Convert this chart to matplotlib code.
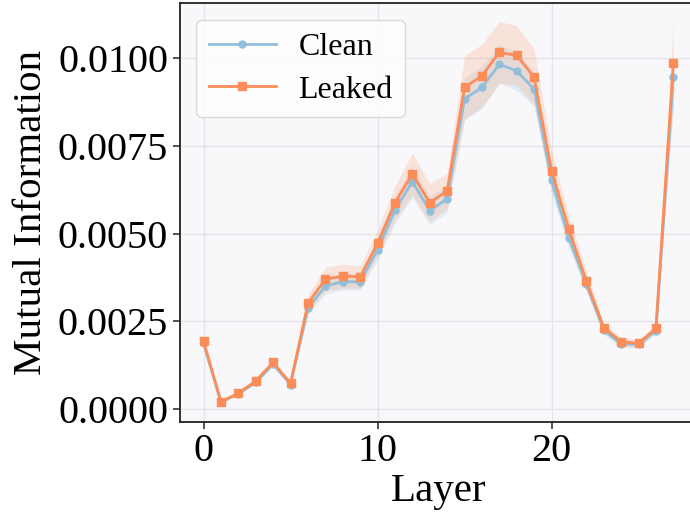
import numpy as np
import matplotlib
matplotlib.use("Agg")
import matplotlib.pyplot as plt

plt.rcParams['font.family'] = ['Liberation Serif', 'DejaVu Serif']

# per-layer mutual information (mean and std over runs)
layers = list(range(28))
clean_mean = [0.00187, 0.00020, 0.00043, 0.00076, 0.00128, 0.00070, 0.00287, 0.00351,
              0.00363, 0.00363, 0.00453, 0.00567, 0.00648, 0.00566, 0.00599, 0.00884,
              0.00917, 0.00983, 0.00964, 0.00912, 0.00653, 0.00487, 0.00356, 0.00225,
              0.00185, 0.00185, 0.00223, 0.00946]
clean_std = [0.00004, 0.00002, 0.00003, 0.00003, 0.00005, 0.00003, 0.00018, 0.00024,
             0.00024, 0.00024, 0.00028, 0.00038, 0.00045, 0.00040, 0.00040, 0.00060,
             0.00060, 0.00055, 0.00055, 0.00050, 0.00040, 0.00030, 0.00020, 0.00012,
             0.00010, 0.00010, 0.00008, 0.00080]
leaked_mean = [0.00194, 0.00021, 0.00045, 0.00080, 0.00133, 0.00073, 0.00301, 0.00370,
               0.00379, 0.00377, 0.00472, 0.00588, 0.00670, 0.00588, 0.00622, 0.00917,
               0.00950, 0.01017, 0.01008, 0.00946, 0.00679, 0.00512, 0.00365, 0.00232,
               0.00192, 0.00187, 0.00230, 0.00986]
leaked_std = [0.00005, 0.00002, 0.00003, 0.00004, 0.00006, 0.00004, 0.00024, 0.00034,
              0.00034, 0.00032, 0.00035, 0.00048, 0.00060, 0.00055, 0.00050, 0.00090,
              0.00090, 0.00088, 0.00085, 0.00080, 0.00055, 0.00040, 0.00028, 0.00014,
              0.00012, 0.00012, 0.00010, 0.00120]

blue = "#91bfdb"
orange = "#fc8d59"

fig = plt.figure(figsize=(6.9, 5.12), dpi=100)
ax = fig.add_axes([0.2609, 0.1764, 0.749, 0.818])
ax.set_facecolor("#f8f8fb")

x = np.array(layers)
for mean, std, color, marker, ms, label in [
        (clean_mean, clean_std, blue, "o", 5, "Clean"),
        (leaked_mean, leaked_std, orange, "s", 6, "Leaked")]:
    mean = np.array(mean)
    std = np.array(std)
    ax.fill_between(x, mean - std, mean + std, color=color, alpha=0.2, linewidth=0)
    ax.plot(x, mean, color=color, marker=marker, markersize=ms, linewidth=2, label=label)

ax.set_xlim(-1.35, 28.35)
ax.set_ylim(-0.00036, 0.01158)
ax.set_xticks([0, 10, 20])
ax.set_yticks([0.0, 0.0025, 0.005, 0.0075, 0.01])
ax.set_yticklabels(["0.0000", "0.0025", "0.0050", "0.0075", "0.0100"])
ax.grid(True, color="#e4e4e8", linewidth=1)
ax.set_axisbelow(True)
ax.tick_params(labelsize=29, length=5, width=1.2, color="#333333")
for s in ax.spines.values():
    s.set_color("#222222")
    s.set_linewidth(1.3)

ax.set_xlabel("Layer", fontsize=29.5, labelpad=2)
ax.set_ylabel("Mutual Information", fontsize=29.5, labelpad=6)

leg = ax.legend(loc="upper left", fontsize=23, frameon=True, fancybox=True,
                framealpha=0.8, edgecolor="#d0d0d0", handlelength=2.1,
                handletextpad=0.7, borderpad=0.4, labelspacing=0.42,
                borderaxespad=0, bbox_to_anchor=(0.031, 0.96))

fig.savefig("out.png", dpi=100)
